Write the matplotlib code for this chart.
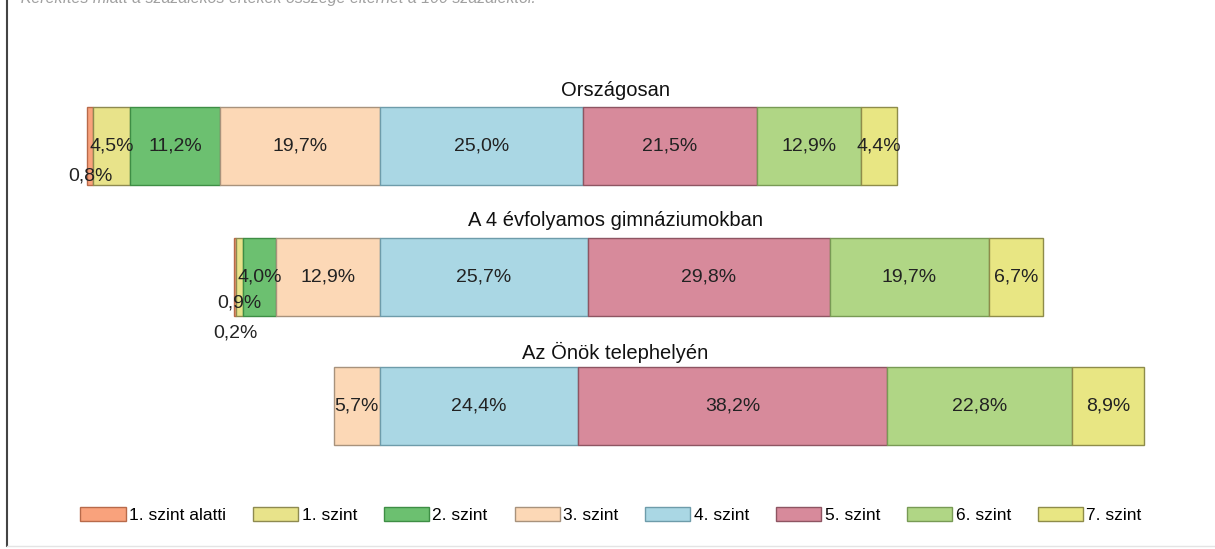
import matplotlib
matplotlib.use("Agg")
import matplotlib.pyplot as plt
from matplotlib.patches import Patch
from matplotlib.lines import Line2D

plt.rcParams["font.family"] = ["Liberation Sans", "DejaVu Sans"]

# --- Adatok ---
csoportok = ["Országosan", "A 4 évfolyamos gimnáziumokban", "Az Önök telephelyén"]
szintek = ["1. szint alatti", "1. szint", "2. szint", "3. szint",
           "4. szint", "5. szint", "6. szint", "7. szint"]
orszagos = [0.8, 4.5, 11.2, 19.7, 25.0, 21.5, 12.9, 4.4]
gimnazium = [0.2, 0.9, 4.0, 12.9, 25.7, 29.8, 19.7, 6.7]
telephely = [0.0, 0.0, 0.0, 5.7, 24.4, 38.2, 22.8, 8.9]
ertekek = [orszagos, gimnazium, telephely]

szinek = ["#F9A27C", "#E8E38A", "#6CC070", "#FCD8B6",
          "#AAD7E4", "#D78A9B", "#B0D685", "#E8E683"]
keretek = ["#B86A4A", "#8E8A50", "#3E8E45", "#A8927C",
           "#6E9CAA", "#8E5562", "#789A55", "#8E8C4A"]

# --- Elrendezés (pixelben) ---
W, H = 1215, 549
px_per_pct = 8.1
x0_px = 380          # a 3. és 4. szint határa
bar_y = [146, 276.5, 406]
bar_h = 78
title_y = [90, 220, 352]
title_x = (615 - x0_px) / px_per_pct
# kis értékek címkéinek függőleges eltolása
eltolas = {(0, 0): 30, (1, 0): 56, (1, 1): 27}

fig = plt.figure(figsize=(W / 100, H / 100), dpi=100)
ax = fig.add_axes([0, 0, 1, 1])
ax.set_xlim(-x0_px / px_per_pct, (W - x0_px) / px_per_pct)
ax.set_ylim(H, 0)
ax.axis("off")

for g, vals in enumerate(ertekek):
    left = -sum(vals[:4])
    for i, v in enumerate(vals):
        if v <= 0:
            continue
        ax.barh(bar_y[g], v, left=left, height=bar_h, color=szinek[i],
                edgecolor=keretek[i], linewidth=1.0)
        cx = left + v / 2
        cy = bar_y[g] + eltolas.get((g, i), 0)
        ax.text(cx, cy, f"{v:.1f}%".replace(".", ","), ha="center", va="center",
                fontsize=14, color="#222222")
        left += v
    ax.text(title_x, title_y[g], csoportok[g], ha="center", va="center",
            fontsize=14.5, color="#111111")

# felső, levágott megjegyzés
fig.text(10 / W, 1 + 1 / H, "* Kerekítés miatt a százalékos értékek összege eltérhet a 100 százaléktól.",
         ha="left", va="center", fontsize=11.5, style="italic", color="#A0A0A0")

# keret
fig.add_artist(Line2D([7 / W, 7 / W], [3 / H, 1], color="#444444", lw=1.5))
fig.add_artist(Line2D([7 / W, 1], [3 / H, 3 / H], color="#E4E4E4", lw=1))

# jelmagyarázat
handles = [Patch(facecolor=szinek[i], edgecolor=keretek[i], label=szintek[i])
           for i in range(len(szintek))]
fig.legend(handles=handles, loc="center", bbox_to_anchor=(611 / W, 1 - 515 / H),
           ncol=8, frameon=False, fontsize=12.5, handlelength=2.6,
           handleheight=0.85, handletextpad=0.2, columnspacing=1.55)

plt.savefig("out.png", dpi=100)
